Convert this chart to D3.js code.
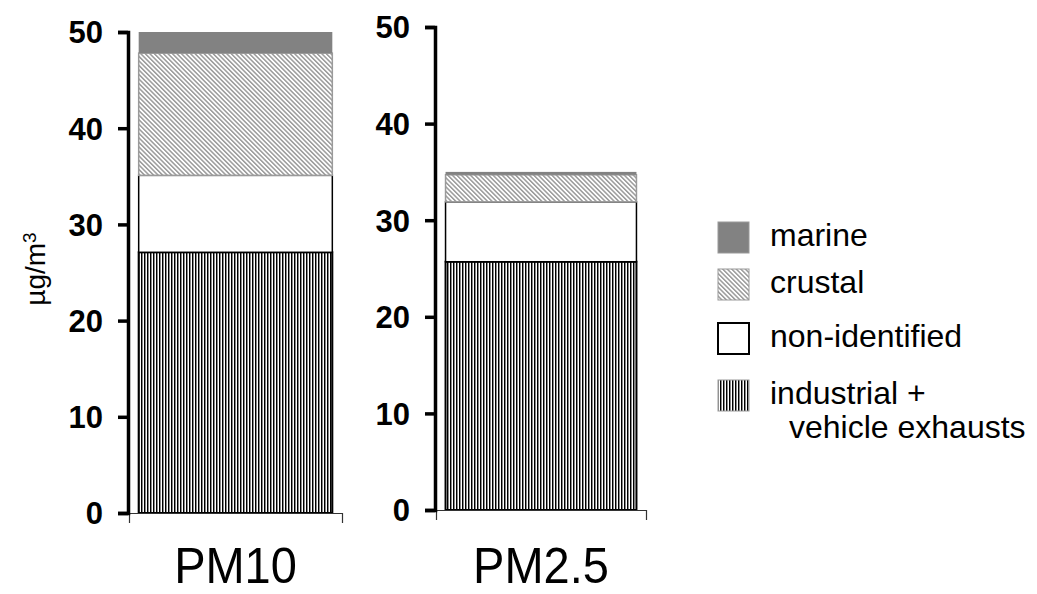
<!DOCTYPE html>
<html>
<head>
<meta charset="utf-8">
<script src="https://cdn.jsdelivr.net/npm/d3@7"></script>
<style>
  html, body { margin: 0; padding: 0; background: #fff; }
  svg { display: block; font-family: "Liberation Sans", Arial, sans-serif; }
</style>
</head>
<body>
<svg id="chart" width="1037" height="594"></svg>
<script>
// Source contributions to particulate matter (µg/m³)
const categories = ["PM10", "PM2.5"];
const sources = ["industrial", "nonIdentified", "crustal", "marine"];
const industrial = [27.1, 25.7];
const nonIdentified = [8.0, 6.2];
const crustal = [12.7, 2.8];
const marine = [2.2, 0.3];
const yTicks = [0, 10, 20, 30, 40, 50];
const legendLabels = [
  ["marine"],
  ["crustal"],
  ["non-identified"],
  ["industrial +", "vehicle exhausts"]
];
const legendKeys = ["marine", "crustal", "nonIdentified", "industrial"];

const rows = categories.map((c, i) => ({
  category: c,
  industrial: industrial[i],
  nonIdentified: nonIdentified[i],
  crustal: crustal[i],
  marine: marine[i]
}));

const svg = d3.select("#chart");
const defs = svg.append("defs");

// Vertical-line hatch for industrial + vehicle exhausts
const pInd = defs.append("pattern")
  .attr("id", "pat-industrial")
  .attr("patternUnits", "userSpaceOnUse")
  .attr("width", 3).attr("height", 6);
pInd.append("rect").attr("width", 3).attr("height", 6).attr("fill", "#ffffff");
pInd.append("rect").attr("x", 0).attr("width", 1).attr("height", 6).attr("fill", "#000000");
pInd.append("rect").attr("x", 1).attr("width", 1).attr("height", 6).attr("fill", "#8a8a8a");

// Diagonal hatch for crustal
const pCru = defs.append("pattern")
  .attr("id", "pat-crustal")
  .attr("patternUnits", "userSpaceOnUse")
  .attr("width", 3.2).attr("height", 8)
  .attr("patternTransform", "rotate(-45)");
pCru.append("rect").attr("width", 3.2).attr("height", 8).attr("fill", "#ffffff");
pCru.append("rect").attr("width", 1.5).attr("height", 8).attr("fill", "#9a9a9a");

const styles = {
  marine:        { fill: "#828282", stroke: "#828282", sw: 0 },
  crustal:       { fill: "url(#pat-crustal)", stroke: "#9a9a9a", sw: 1.5 },
  nonIdentified: { fill: "#ffffff", stroke: "#000000", sw: 1.5 },
  industrial:    { fill: "url(#pat-industrial)", stroke: "#000000", sw: 2 }
};

const stack = d3.stack().keys(sources);

// Each fraction gets its own panel with its own axes
const panels = [
  { category: "PM10",  xRange: [129, 342], yRange: [513, 32] },
  { category: "PM2.5", xRange: [436, 646], yRange: [510, 27] }
];

panels.forEach(p => {
  const data = rows.filter(r => r.category === p.category);
  const x = d3.scaleBand().domain([p.category]).range(p.xRange).paddingInner(0).paddingOuter(0.05);
  const y = d3.scaleLinear().domain([0, 50]).range(p.yRange);
  const g = svg.append("g");

  // Stacked bar
  const series = stack(data);
  series.forEach(s => {
    const st = styles[s.key];
    g.selectAll(null).data(s).join("rect")
      .attr("x", d => x(d.data.category))
      .attr("width", x.bandwidth())
      .attr("y", d => y(d[1]))
      .attr("height", d => y(d[0]) - y(d[1]))
      .attr("fill", st.fill)
      .attr("stroke", st.sw ? st.stroke : "none")
      .attr("stroke-width", st.sw);
  });

  // X axis (thin line with end ticks, large category label)
  const xAxis = g.append("g")
    .attr("transform", `translate(0,${p.yRange[0]})`)
    .call(d3.axisBottom(x).tickSizeInner(0).tickSizeOuter(10));
  xAxis.select(".domain").attr("stroke", "#333").attr("stroke-width", 1.2);
  xAxis.selectAll(".tick text")
    .attr("y", 0).attr("dy", 0)
    .attr("transform", `translate(0,${583 - p.yRange[0]}) scale(1,1.08)`)
    .attr("font-size", 47)
    .attr("fill", "#000")
    .attr("font-family", "'Liberation Sans', Arial, sans-serif");

  // Y axis (thick line, bold tick labels)
  const yAxis = g.append("g")
    .attr("transform", `translate(${p.xRange[0] - 1},0)`)
    .call(d3.axisLeft(y).tickValues(yTicks).tickSize(10).tickPadding(15).tickFormat(d3.format("d")));
  yAxis.select(".domain").attr("stroke", "#000").attr("stroke-width", 3.5);
  yAxis.selectAll(".tick line").attr("stroke", "#000").attr("stroke-width", 3.5);
  yAxis.selectAll(".tick text")
    .attr("font-size", 31)
    .attr("font-weight", "bold")
    .attr("fill", "#000")
    .attr("dy", "0.35em")
    .attr("font-family", "'Liberation Sans', Arial, sans-serif");
});

// Y axis title
const yTitle = svg.append("text")
  .attr("transform", "translate(45,269) rotate(-90)")
  .attr("text-anchor", "middle")
  .attr("font-size", 28)
  .attr("fill", "#000");
yTitle.append("tspan").text("µg/m");
yTitle.append("tspan").attr("dy", "-0.5em").attr("font-size", 19).text("3");

// Legend
const legendTops = [222, 269, 323, 380];
const legend = svg.append("g");
legendKeys.forEach((k, i) => {
  const st = styles[k];
  const item = legend.append("g");
  item.append("rect")
    .attr("x", 718).attr("y", legendTops[i])
    .attr("width", 31).attr("height", 31)
    .attr("fill", st.fill)
    .attr("stroke", k === "nonIdentified" ? "#000" : "#999")
    .attr("stroke-width", k === "nonIdentified" ? 2 : 1);
  const t = item.append("text")
    .attr("font-size", 32)
    .attr("fill", "#000");
  legendLabels[i].forEach((line, j) => {
    t.append("tspan")
      .attr("x", j === 0 ? 770 : 789)
      .attr("y", legendTops[i] + 24 + j * 34)
      .text(line);
  });
});
</script>
</body>
</html>
